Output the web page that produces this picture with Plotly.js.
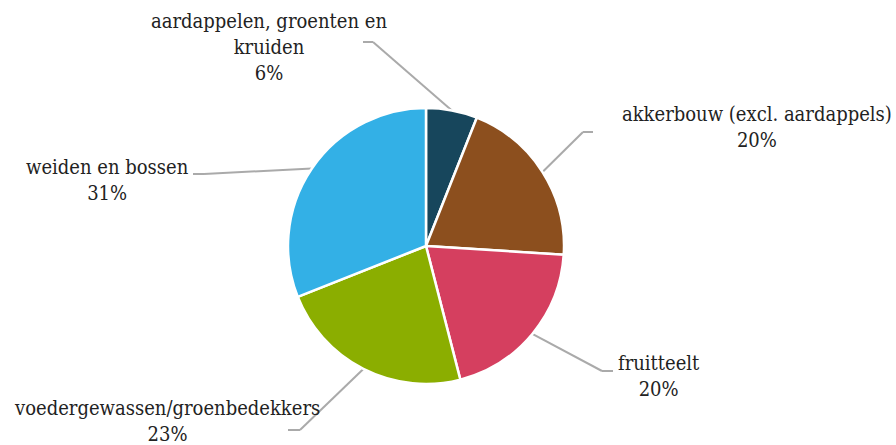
<!DOCTYPE html>
<html>
<head>
<meta charset="utf-8">
<script src="https://cdn.plot.ly/plotly-3.0.1.min.js"></script>
<style>html,body{margin:0;padding:0;background:#fff;}#chart{width:896px;height:445px;}</style>
</head>
<body>
<div id="chart"></div>
<script>
// Data
const categories = ["aardappelen, groenten en kruiden", "akkerbouw (excl. aardappels)", "fruitteelt", "voedergewassen/groenbedekkers", "weiden en bossen"];
const labelTexts = ["aardappelen, groenten en<br>kruiden", "akkerbouw (excl. aardappels)", "fruitteelt", "voedergewassen/groenbedekkers", "weiden en bossen"];
const values = [6, 20, 20, 23, 31];
const colors = ["#17465c", "#8c4f1e", "#d53f5f", "#8bae00", "#33b0e6"];

// Layout (pixels)
const W = 896, H = 445;
const cx = 426, cy = 246, R = 138;
const labelPos = [[269, 47], [757, 127], [659, 376], [167, 421], [107, 180]];
const elbows = [[373, 42], [583, 132], [602, 371], [300, 430], [204, 174]];
const ends = [[363, 42], [593, 132], [613, 371], [288, 430], [193, 174]];

const px = x => x / W, py = y => 1 - y / H;
const total = values.reduce((a, b) => a + b, 0);
let cum = 0;
const shapes = [], annotations = [];
values.forEach((v, i) => {
  const mid = (cum + v / 2) / total * 2 * Math.PI; cum += v;
  const sx = cx + R * Math.sin(mid), sy = cy - R * Math.cos(mid);
  const pts = [[sx, sy], elbows[i], ends[i]];
  pts.slice(1).forEach((p, k) => {
    const a = pts[k];
    shapes.push({type: 'line', xref: 'paper', yref: 'paper', x0: px(a[0]), y0: py(a[1]), x1: px(p[0]), y1: py(p[1]),
      line: {color: '#aaaaaa', width: 2}, layer: 'below'});
  });
  annotations.push({xref: 'paper', yref: 'paper', x: px(labelPos[i][0]), y: py(labelPos[i][1]),
    xanchor: 'center', yanchor: 'middle', align: 'center', showarrow: false,
    text: labelTexts[i] + '<br>' + Math.round(v / total * 100) + '%',
    font: {family: '"DejaVu Serif Condensed", "DejaVu Serif", serif', size: 20, color: '#222'}});
});

const trace = {
  type: 'pie', labels: categories, values: values, sort: false, direction: 'clockwise', rotation: 0,
  marker: {colors: colors, line: {color: '#ffffff', width: 2.5}},
  textinfo: 'none', hoverinfo: 'none', showlegend: false,
  domain: {x: [px(cx - R), px(cx + R)], y: [py(cy + R), py(cy - R)]}
};

Plotly.newPlot('chart', [trace], {
  width: W, height: H, margin: {l: 0, r: 0, t: 0, b: 0},
  paper_bgcolor: '#fff', showlegend: false, shapes: shapes, annotations: annotations
}, {staticPlot: true});
</script>
</body>
</html>
